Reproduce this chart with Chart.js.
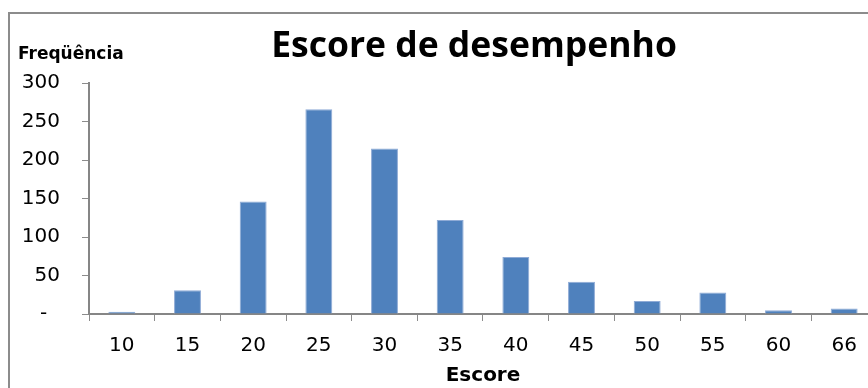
<!DOCTYPE html>
<html>
<head>
<meta charset="utf-8">
<script src="https://cdn.jsdelivr.net/npm/chart.js@4/dist/chart.umd.min.js"></script>
<style>
  html, body { margin: 0; padding: 0; background: #fff; }
  #wrap { width: 868px; height: 388px; overflow: hidden; position: relative; }
  #wrap canvas { position: absolute; left: 0; top: 0; }
</style>
</head>
<body>
<div id="wrap"><canvas id="chart" width="890" height="388"></canvas></div>
<script>
// dados
const escores = ['10', '15', '20', '25', '30', '35', '40', '45', '50', '55', '60', '66'];
const frequencias = [3, 31, 146, 266, 215, 122, 74, 42, 17, 28, 5, 7];
const yTicks = [0, 50, 100, 150, 200, 250, 300];

const tituloGrafico = 'Escore de desempenho';
const tituloX = 'Escore';
const tituloY = 'Freqüência';

// moldura cinza, título e rótulo do eixo Y (horizontal, como no Excel)
const molduraPlugin = {
  id: 'moldura',
  beforeDraw(chart) {
    const ctx = chart.ctx;
    ctx.save();
    ctx.fillStyle = '#ffffff';
    ctx.fillRect(0, 0, chart.width, chart.height);
    ctx.strokeStyle = '#8c8c8c';
    ctx.lineWidth = 2;
    ctx.strokeRect(9, 13, 2000, 2000);
    ctx.restore();
  },
  afterDraw(chart) {
    const ctx = chart.ctx;
    ctx.save();
    ctx.fillStyle = '#000';
    ctx.textBaseline = 'alphabetic';
    ctx.font = 'bold 35.5px "Open Sans"';
    ctx.textAlign = 'center';
    ctx.fillText(tituloGrafico, 474, 57);
    ctx.font = 'bold 17px "DejaVu Sans"';
    ctx.textAlign = 'left';
    ctx.fillText(tituloY, 18, 59);
    ctx.restore();
  }
};

new Chart(document.getElementById('chart'), {
  type: 'bar',
  data: {
    labels: escores,
    datasets: [{
      label: tituloY,
      data: frequencias,
      backgroundColor: '#4f81bd',
      borderColor: '#8fabd6',
      borderWidth: 1,
      barPercentage: 0.41,
      categoryPercentage: 1.0
    }]
  },
  options: {
    responsive: false,
    animation: false,
    layout: { padding: { left: 0, right: 13, top: 83, bottom: 0 } },
    plugins: {
      legend: { display: false },
      tooltip: { enabled: false },
      title: { display: false }
    },
    scales: {
      x: {
        grid: { display: true, drawOnChartArea: false, drawTicks: true, tickLength: 7, color: '#8c8c8c', offset: true },
        border: { display: true, color: '#868686', width: 2 },
        ticks: { color: '#000', font: { family: '"DejaVu Sans"', size: 20 }, padding: 13, maxRotation: 0, autoSkip: false },
        title: {
          display: true, text: tituloX, color: '#000',
          font: { family: '"DejaVu Sans"', size: 20, weight: 'bold' },
          padding: { top: 0, bottom: 0 }
        },
        afterFit(scale) { scale.height = 74; }
      },
      y: {
        min: 0,
        max: 300,
        afterBuildTicks(scale) { scale.ticks = yTicks.map(v => ({ value: v })); },
        grid: { display: true, drawOnChartArea: false, drawTicks: true, tickLength: 7, color: '#8c8c8c' },
        border: { display: true, color: '#868686', width: 2 },
        ticks: {
          color: '#000',
          font: { family: '"DejaVu Sans"', size: 20 },
          padding: 22,
          callback: v => (v === 0 ? '-  ' : String(v))
        },
        afterFit(scale) { scale.width = 89; }
      }
    }
  },
  plugins: [molduraPlugin]
});
</script>
</body>
</html>
